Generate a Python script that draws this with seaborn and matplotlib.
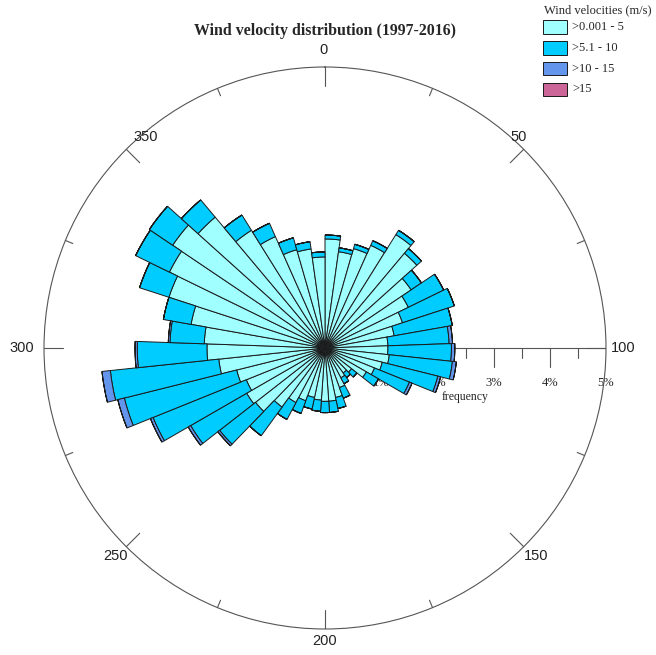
import numpy as np
import matplotlib
matplotlib.use("Agg")
import matplotlib.pyplot as plt
from matplotlib.patches import Rectangle
import seaborn as sns

# Direction sectors (degrees clockwise from north, 8-degree bins, bin centres)
sector_deg = [4, 12, 20, 28, 36, 44, 52, 60, 68, 76, 84, 92, 100, 108, 116,
              124, 132, 140, 148, 156, 164, 172, 180, 188, 196, 204, 212, 220,
              228, 236, 244, 252, 260, 268, 276, 284, 292, 300, 308, 316, 324,
              332, 340, 348, 356]

# Frequency (%) per speed class for each sector
speed_0_5 = [1.94, 1.73, 1.84, 2.00, 2.38, 2.20, 1.85, 1.65, 1.45, 1.25, 1.12,
             1.12, 1.15, 1.05, 0.95, 0.85, 0.60, 0.55, 0.60, 0.75, 0.90, 0.95,
             0.95, 0.93, 0.90, 1.00, 1.10, 1.30, 1.57, 1.61, 1.51, 1.62, 1.90,
             2.10, 2.15, 2.42, 2.92, 3.08, 3.27, 3.04, 2.47, 2.17, 1.82, 1.78,
             1.62]
speed_5_10 = [0.07, 0.07, 0.08, 0.09, 0.09, 0.11, 0.22, 0.70, 0.97, 1.05, 1.09,
              1.13, 1.13, 1.02, 0.67, 0.25, 0.12, 0.10, 0.12, 0.20, 0.20, 0.20,
              0.20, 0.20, 0.21, 0.24, 0.34, 0.63, 0.81, 1.15, 1.79, 2.06, 1.94,
              1.24, 0.61, 0.50, 0.55, 0.67, 0.50, 0.40, 0.32, 0.26, 0.22, 0.13,
              0.09]
speed_10_15 = [0.0, 0.0, 0.0, 0.0, 0.0, 0.0, 0.0, 0.0, 0.0, 0.0, 0.06,
               0.06, 0.07, 0.05, 0.05, 0.0, 0.0, 0.0, 0.0, 0.0, 0.0, 0.0,
               0.0, 0.0, 0.0, 0.0, 0.0, 0.0, 0.04, 0.05, 0.05, 0.12, 0.15,
               0.04, 0.03, 0.0, 0.0, 0.0, 0.0, 0.0, 0.0, 0.0, 0.0, 0.0,
               0.0]
speed_over_15 = [0.0] * 45

class_labels = [">0.001 - 5", ">5.1 - 10", ">10 - 15", ">15"]
class_colors = ["#A0FFFF", "#00CCFF", "#6495ED", "#CC6699"]

# Compass scale in gradians (400 per full turn)
compass_major = [0, 50, 100, 150, 200, 250, 300, 350]
compass_minor = [25, 75, 125, 175, 225, 275, 325, 375]
freq_ticks = [1, 2, 3, 4, 5]
freq_minor = [0.5, 1.5, 2.5, 3.5, 4.5]

sns.set_style("white")
plt.rcParams["font.family"] = ["Liberation Serif", "DejaVu Serif"]
palette = sns.color_palette(class_colors)

W, H = 656, 655
fig = plt.figure(figsize=(W / 100, H / 100), dpi=100)
cx, cy, R = 325, 348, 281
rect = [(cx - R) / W, (H - cy - R) / H, 2 * R / W, 2 * R / H]
px = 5.0 / R  # percent per pixel

def fig_xy(x, y):
    return x / W, 1 - y / H

# Cartesian overlay (in % units) for the frequency scale and compass ticks
cax = fig.add_axes(rect, zorder=0)
cax.set_xlim(-5, 5)
cax.set_ylim(-5, 5)
cax.axis("off")
axis_col = "#555555"
cax.plot([0, 5], [0, 0], color=axis_col, lw=0.8)
for v in freq_ticks:
    cax.plot([v, v], [0, -19 * px], color=axis_col, lw=0.8)
    cax.text(v, -35 * px, f"{v}%", ha="center", va="center", fontsize=9)
for v in freq_minor:
    cax.plot([v, v], [0, -10 * px], color=axis_col, lw=0.8)
cax.text(2.5, -49 * px, "frequency", ha="center", va="center", fontsize=8.5)

for g in compass_major + compass_minor:
    a = np.deg2rad(g * 0.9)
    r_in = 5 - (19 if g in compass_major else 8) * px
    cax.plot([r_in * np.sin(a), 5 * np.sin(a)], [r_in * np.cos(a), 5 * np.cos(a)],
             color=axis_col, lw=0.8)

# Compass labels
label_pos = {0: (324, 50), 50: (519, 137), 100: (623, 348), 150: (536, 556),
             200: (325, 641), 250: (115, 556), 300: (22, 348), 350: (146, 137)}
for g in compass_major:
    x, y = label_pos[g]
    fig.text(*fig_xy(x, y), str(g), ha="center", va="center",
             fontfamily="Liberation Sans", fontsize=10.5, color="#222222")

ax = fig.add_axes(rect, projection="polar", zorder=1)
ax.patch.set_alpha(0)
ax.set_theta_zero_location("N")
ax.set_theta_direction(-1)

theta = np.deg2rad(sector_deg)
width = np.deg2rad(8)
bottom = np.zeros(len(sector_deg))
for vals, color, label in zip([speed_0_5, speed_5_10, speed_10_15, speed_over_15],
                              palette, class_labels):
    vals = np.asarray(vals)
    ax.bar(theta, vals, width=width, bottom=bottom, color=color,
           edgecolor="#1a1a1a", linewidth=0.7, label=label, align="center")
    bottom = bottom + vals

ax.set_ylim(0, 5)
ax.set_yticks([])
ax.set_xticks([])
ax.grid(False)
ax.spines["polar"].set_color(axis_col)
ax.spines["polar"].set_linewidth(0.8)

fig.text(*fig_xy(325, 31), "Wind velocity distribution (1997-2016)",
         ha="center", va="center", fontsize=11.4, fontweight="bold")

# Legend
fig.text(*fig_xy(544, 10), "Wind velocities (m/s)", ha="left", va="center",
         fontsize=9)
row_y = [27, 48, 68.5, 89]
for yc, color, label in zip(row_y, palette, class_labels):
    x0, y0 = fig_xy(543, yc + 6.5)
    fig.add_artist(Rectangle((x0, y0), 24 / W, 13 / H, transform=fig.transFigure,
                             facecolor=color, edgecolor="#1a1a1a", linewidth=0.7))
    fig.text(*fig_xy(572, yc), label, ha="left", va="center", fontsize=9)

fig.savefig("out.png", dpi=100)
